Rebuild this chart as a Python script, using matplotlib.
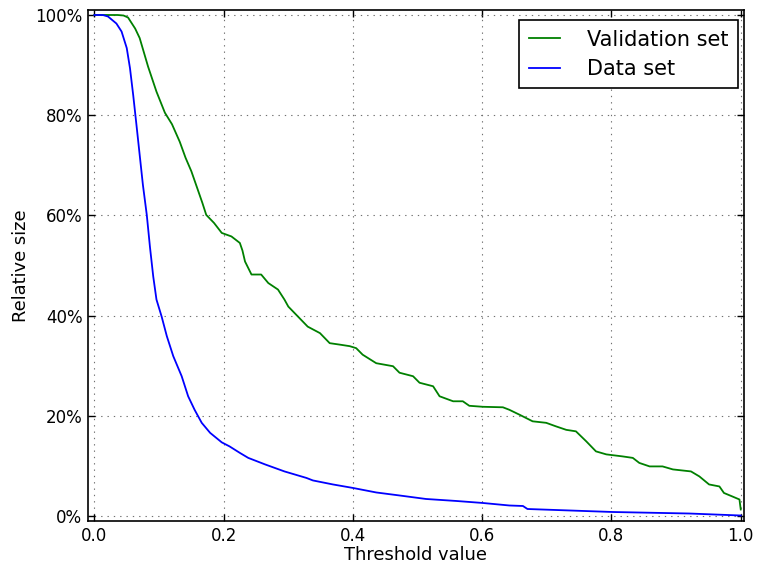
import matplotlib
matplotlib.use("Agg")
import matplotlib.pyplot as plt

# Validation set: relative size vs threshold
val_x = [0.0, 0.036, 0.045, 0.052, 0.063, 0.070, 0.083, 0.096, 0.109, 0.120, 0.132,
         0.141, 0.150, 0.160, 0.167, 0.173, 0.185, 0.197, 0.212, 0.225, 0.229, 0.233,
         0.243, 0.258, 0.269, 0.284, 0.294, 0.300, 0.315, 0.330, 0.349, 0.364, 0.380,
         0.395, 0.405, 0.415, 0.436, 0.462, 0.472, 0.493, 0.503, 0.524, 0.534, 0.555,
         0.570, 0.580, 0.601, 0.632, 0.642, 0.658, 0.678, 0.699, 0.714, 0.730, 0.745,
         0.761, 0.776, 0.792, 0.817, 0.833, 0.843, 0.859, 0.879, 0.895, 0.923, 0.936,
         0.951, 0.967, 0.974, 0.987, 0.998, 1.0]
val_y = [1.0, 1.0, 0.999, 0.995, 0.973, 0.954, 0.897, 0.847, 0.805, 0.782, 0.747,
         0.715, 0.688, 0.651, 0.625, 0.601, 0.585, 0.565, 0.558, 0.545, 0.530, 0.508,
         0.482, 0.482, 0.465, 0.452, 0.432, 0.418, 0.398, 0.378, 0.365, 0.345, 0.342,
         0.339, 0.335, 0.322, 0.305, 0.299, 0.286, 0.279, 0.266, 0.259, 0.239, 0.229,
         0.229, 0.220, 0.218, 0.217, 0.212, 0.202, 0.189, 0.186, 0.179, 0.172, 0.169,
         0.149, 0.129, 0.123, 0.119, 0.116, 0.106, 0.099, 0.099, 0.093, 0.089, 0.079,
         0.063, 0.059, 0.046, 0.039, 0.033, 0.013]

# Full data set: relative size vs threshold
data_x = [0.0, 0.013, 0.021, 0.034, 0.042, 0.050, 0.055, 0.060, 0.065, 0.070, 0.075,
          0.081, 0.086, 0.091, 0.096, 0.104, 0.112, 0.122, 0.135, 0.145, 0.155, 0.166,
          0.179, 0.197, 0.209, 0.225, 0.238, 0.264, 0.294, 0.328, 0.338, 0.369, 0.400,
          0.436, 0.472, 0.513, 0.560, 0.601, 0.642, 0.663, 0.670, 0.714, 0.802, 0.920,
          1.0]
data_y = [1.0, 1.0, 0.997, 0.983, 0.967, 0.934, 0.894, 0.840, 0.781, 0.721, 0.661,
          0.601, 0.536, 0.478, 0.432, 0.398, 0.359, 0.319, 0.279, 0.239, 0.212, 0.186,
          0.166, 0.147, 0.139, 0.126, 0.116, 0.103, 0.089, 0.076, 0.071, 0.063, 0.056,
          0.047, 0.041, 0.034, 0.030, 0.026, 0.021, 0.020, 0.014, 0.012, 0.008, 0.005,
          0.001]

x_ticks = [0.0, 0.2, 0.4, 0.6, 0.8, 1.0]
x_tick_labels = ["0.0", "0.2", "0.4", "0.6", "0.8", "1.0"]
y_ticks = [0.0, 0.2, 0.4, 0.6, 0.8, 1.0]
y_tick_labels = ["0%", "20%", "40%", "60%", "80%", "100%"]

plt.rcParams["font.family"] = ["DejaVu Sans"]

fig = plt.figure(figsize=(7.57, 5.74), dpi=100, facecolor="white")
ax = fig.add_axes([0.1162, 0.0923, 0.8666, 0.8903])

ax.plot(val_x, val_y, color="#008000", lw=1.3, label="Validation set")
ax.plot(data_x, data_y, color="#0000ff", lw=1.3, label="Data set")

ax.set_xlim(-0.01, 1.005)
ax.set_ylim(-0.01, 1.01)
ax.set_xticks(x_ticks)
ax.set_xticklabels(x_tick_labels, fontsize=12)
ax.set_yticks(y_ticks)
ax.set_yticklabels(y_tick_labels, fontsize=12)
ax.tick_params(direction="in", length=5, width=1, top=True, right=True, pad=4)
ax.grid(True, color="#707070", linestyle=(0, (1.2, 4.5)), linewidth=0.8)
for s in ax.spines.values():
    s.set_linewidth(1.2)

ax.set_xlabel("Threshold value", fontsize=12.9, labelpad=1)
ax.set_ylabel("Relative size", fontsize=12.9, labelpad=4)

leg = ax.legend(loc="upper right", bbox_to_anchor=(0.991, 0.980), fontsize=15,
                fancybox=False, framealpha=1, edgecolor="black", borderpad=0.45,
                handlelength=1.5, handletextpad=1.3, labelspacing=0.45,
                borderaxespad=0.0)
leg.get_frame().set_linewidth(1.2)

fig.savefig("out.png", dpi=100, facecolor="white")
